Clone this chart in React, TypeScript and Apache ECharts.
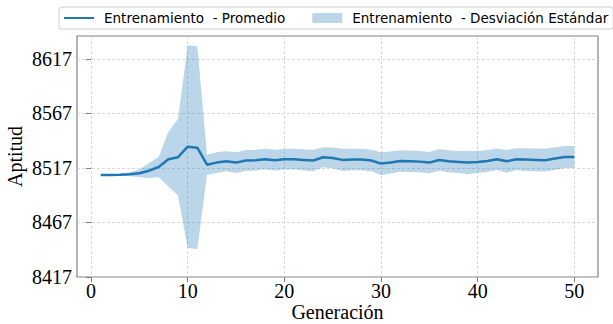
import React, { useEffect, useRef } from "react";
import * as echarts from "echarts";

const generaciones = [
  1, 2, 3, 4, 5, 6, 7, 8, 9, 10, 11, 12, 13, 14, 15, 16, 17, 18, 19, 20, 21, 22, 23, 24, 25,
  26, 27, 28, 29, 30, 31, 32, 33, 34, 35, 36, 37, 38, 39, 40, 41, 42, 43, 44, 45, 46, 47, 48, 49, 50,
];
const promedio = [
  8510.6, 8510.6, 8510.7, 8511.2, 8512.1, 8514.5, 8517.9, 8525.0, 8526.8, 8536.5,
  8535.6, 8520.0, 8521.9, 8523.2, 8521.9, 8523.8, 8524.1, 8525.0, 8524.1, 8525.0,
  8525.0, 8524.4, 8523.8, 8526.8, 8526.2, 8524.4, 8524.7, 8524.7, 8523.8, 8521.0,
  8521.9, 8523.4, 8523.1, 8522.8, 8521.9, 8524.3, 8523.1, 8522.5, 8521.9, 8522.5,
  8523.4, 8525.0, 8523.1, 8525.0, 8524.7, 8524.4, 8524.1, 8525.6, 8527.1, 8527.1,
];
const desviacion = [
  0, 0.3, 0.8, 1.8, 3.4, 7.0, 9.2, 25, 35, 93,
  93, 9.2, 9.5, 9.2, 9.5, 9.5, 9.5, 9.5, 9.5, 9.5,
  9.5, 9.8, 9.8, 9.2, 9.5, 10.1, 9.8, 9.8, 9.8, 10.4,
  10.1, 9.8, 9.8, 9.8, 9.8, 9.8, 10.1, 10.1, 10.7, 10.1,
  10.1, 9.8, 10.4, 10.1, 10.4, 10.4, 10.4, 10.4, 10.1, 10.1,
];
const xTicks = [0, 10, 20, 30, 40, 50];
const yTicks = [8417, 8467, 8517, 8567, 8617];

const NOMBRE_PROMEDIO = "Entrenamiento  - Promedio";
const NOMBRE_DESV = "Entrenamiento  - Desviación Estándar";

export default function App() {
  const ref = useRef<HTMLDivElement>(null);
  useEffect(() => {
    const chart = echarts.init(ref.current!, null, { renderer: "svg" });
    const bandData = generaciones.map((g, i) => [g, promedio[i] - desviacion[i], promedio[i] + desviacion[i]]);
    const meanData = generaciones.map((g, i) => [g, promedio[i]]);
    const serif = "Liberation Serif";
    const gridLine = { show: true, lineStyle: { color: "#cfcfcf", type: [3, 2], width: 0.8 } };
    chart.setOption({
      animation: false,
      backgroundColor: "#ffffff",
      grid: {
        left: 77, right: 15, top: 36, bottom: 47,
        outerBoundsMode: "none",
        containLabel: false,
        show: true, borderColor: "#808080", borderWidth: 1.2, backgroundColor: "transparent",
      },
      legend: {
        left: 59,
        top: 7,
        padding: [4, 5, 4, 4],
        itemWidth: 30,
        itemHeight: 10,
        itemGap: 27,
        backgroundColor: "rgba(255,255,255,0.8)",
        borderColor: "#cccccc",
        borderWidth: 1,
        borderRadius: 3,
        textStyle: { fontFamily: "DejaVu Sans", fontSize: 13.5, color: "#000", padding: [0, 0, 0, 5] },
        data: [
          { name: NOMBRE_PROMEDIO, itemStyle: { opacity: 0 } },
          { name: NOMBRE_DESV, icon: "rect", itemStyle: { color: "rgba(31,119,180,0.3)" } },
        ],
      },
      xAxis: {
        type: "value",
        min: -1.45,
        max: 52.45,
        name: "Generación",
        nameLocation: "middle",
        nameMoveOverlap: false,
        nameGap: 25,
        nameTextStyle: { fontFamily: serif, fontSize: 20, lineHeight: 20, color: "#000" },
        axisLine: { show: false },
        axisTick: { show: true, length: 5, lineStyle: { color: "#808080" }, customValues: xTicks },
        axisLabel: { margin: 4, fontFamily: serif, fontSize: 20, color: "#000", customValues: xTicks, formatter: (v: number) => String(v) },
        splitLine: gridLine,
      },
      yAxis: {
        type: "value",
        min: 8417,
        max: 8638,
        name: "Aptitud",
        nameLocation: "middle",
        nameMoveOverlap: false,
        nameGap: 52,
        nameTextStyle: { fontFamily: serif, fontSize: 20, lineHeight: 20, color: "#000" },
        axisLine: { show: false },
        axisTick: { show: true, length: 5, lineStyle: { color: "#808080" }, customValues: yTicks },
        axisLabel: { margin: 5, fontFamily: serif, fontSize: 20, color: "#000", customValues: yTicks, formatter: (v: number) => String(v) },
        splitLine: gridLine,
      },
      series: [
        {
          name: NOMBRE_DESV,
          type: "custom",
          clip: true,
          itemStyle: { color: "rgba(31,119,180,0.3)" },
          encode: { x: 0, y: [1, 2] },
          data: bandData,
          renderItem: (params: any, api: any) => {
            if (params.dataIndex !== 0) return null;
            const n = params.dataInsideLength;
            const top: number[][] = [];
            const bottom: number[][] = [];
            for (let i = 0; i < n; i++) {
              top.push(api.coord([api.value(0, i), api.value(2, i)]));
              bottom.push(api.coord([api.value(0, i), api.value(1, i)]));
            }
            const pts = top.concat(bottom.reverse());
            return {
              type: "polygon",
              shape: { points: pts },
              style: { fill: "rgba(31,119,180,0.3)", stroke: "none" },
            };
          },
        },
        {
          name: NOMBRE_PROMEDIO,
          type: "line",
          symbol: "none",
          data: meanData,
          lineStyle: { color: "#1f77b4", width: 2.5 },
          itemStyle: { color: "#1f77b4" },
          z: 5,
        },
      ],
    });
    return () => chart.dispose();
  }, []);
  return <div ref={ref} style={{ position: "fixed", left: 0, top: 0, width: 613, height: 324 }} />;
}
